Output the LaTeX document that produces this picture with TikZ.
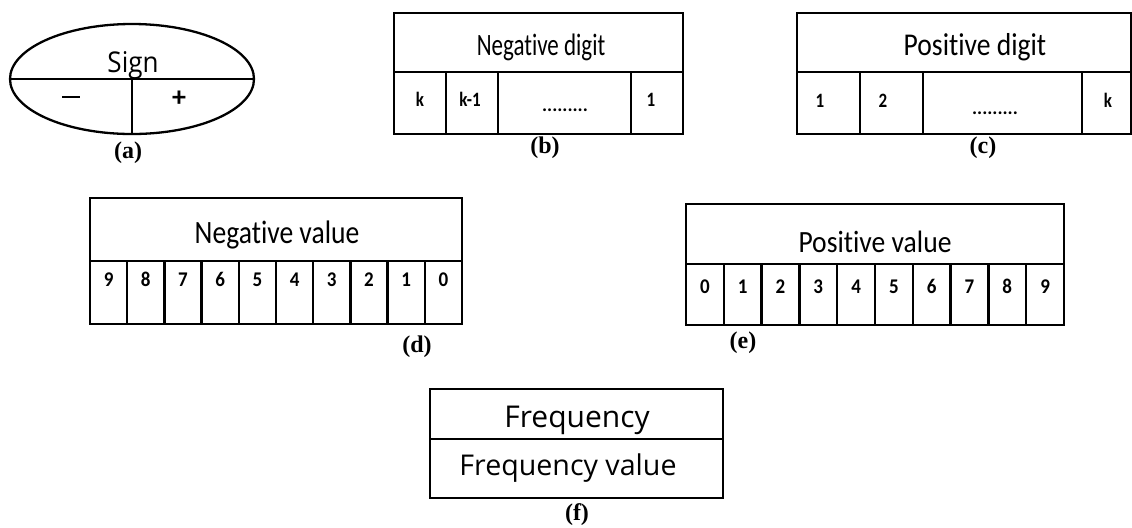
\documentclass[tikz,border=0pt]{standalone}
\usepackage{graphicx}
\usepackage{fontspec}
\setmainfont{Liberation Serif}
\newfontfamily\cellfont[Ligatures=NoCommon]{Carlito}
\newfontfamily\headfont{Open Sans}
\usetikzlibrary{shapes.geometric}

% hohe, schmale Schrift in den Kopfzeilen
\newcommand{\tall}[2]{\scalebox{1}[#1]{#2}}

\tikzset{
  title/.style={font=\cellfont\fontsize{13.8}{16}\selectfont, anchor=base},
  smalltitle/.style={font=\cellfont\fontsize{11.5}{14}\selectfont, anchor=base},
  digit/.style={font=\cellfont\bfseries\fontsize{9.5}{11}\selectfont, anchor=base},
  smalldigit/.style={font=\cellfont\bfseries\fontsize{8.5}{10}\selectfont, anchor=base},
  caption/.style={font=\bfseries\fontsize{12}{14}\selectfont, anchor=base},
}

\begin{document}
\begin{tikzpicture}[x=0.5pt, y=-0.5pt, line width=1.15pt]
    \useasboundingbox (0,0) rectangle (1132,527);

    % (a) Vorzeichen-Feld
    \node[ellipse, draw, minimum width=122pt, minimum height=55pt, inner sep=0pt] (sign) at (132,79) {};
    \draw (sign.west) -- (sign.east);
    \draw (sign.center) -- (sign.south);
    \node[font=\headfont\fontsize{13}{15}\selectfont, anchor=base] (signtxt) at (133,72) {\tall{1.1}{Sign}};
    \node[inner sep=0pt] (minus) at (71,97) {\rule{9pt}{1.4pt}};
    \node[font=\cellfont\bfseries\fontsize{14}{16}\selectfont, anchor=base] (plus) at (179,106) {+};
    \node[caption] (capa) at (128,158) {(a)};

    % (b) negative Ziffern
    \draw (394,13) rectangle (683,134);
    \draw (394,72) -- (683,72);
    \draw (446,72) -- (446,134);
    \draw (498,72) -- (498,134);
    \draw (631,72) -- (631,134);
    \node[smalltitle] (negdig) at (541,55) {\tall{1.35}{Negative digit}};
    \node[smalldigit] (nk) at (420,106) {\tall{1.2}{k}};
    \node[smalldigit] (nkm) at (470,106) {\tall{1.2}{k-1}};
    \node[digit] (ndots) at (565,111) {.........};
    \node[smalldigit] (none) at (651,106) {\tall{1.2}{1}};
    \node[caption] (capb) at (545,153) {(b)};

    % (c) positive Ziffern
    \draw (797,13) rectangle (1131,134);
    \draw (797,72) -- (1131,72);
    \draw (860,72) -- (860,134);
    \draw (923,72) -- (923,134);
    \draw (1082,72) -- (1082,134);
    \node[title] (posdig) at (975,55) {\tall{1.15}{Positive digit}};
    \node[smalldigit] (pone) at (820,107) {\tall{1.2}{1}};
    \node[smalldigit] (ptwo) at (883,107) {\tall{1.2}{2}};
    \node[digit] (pdots) at (995,114) {.........};
    \node[smalldigit] (pk) at (1108,107) {\tall{1.2}{k}};
    \node[caption] (capc) at (983,153) {(c)};

    % (d) negative Werte 9 ... 0
    \draw (90,198) rectangle (462,324);
    \draw (90,261) -- (462,261);
    \foreach \i in {1,...,9}
        \draw (90+\i*37.2,261) -- (90+\i*37.2,324);
    \node[title] (negval) at (277,243) {\tall{1.18}{Negative value}};
    \foreach \d [count=\i from 0] in {9,8,...,0}
        \node[digit] (nv\i) at (108.6+\i*37.2,286) {\tall{1.1}{\d}};
    \node[caption] (capd) at (417,352) {(d)};

    % (e) positive Werte 0 ... 9
    \draw (686,204) rectangle (1064,325);
    \draw (686,264) -- (1064,264);
    \foreach \i in {1,...,9}
        \draw (686+\i*37.8,264) -- (686+\i*37.8,325);
    \node[title] (posval) at (875,252) {\tall{1.12}{Positive value}};
    \foreach \d [count=\i from 0] in {0,1,...,9}
        \node[digit] (pv\i) at (704.9+\i*37.8,293) {\tall{1.1}{\d}};
    \node[caption] (cape) at (743,348) {(e)};

    % (f) Haeufigkeit
    \draw (430,389) rectangle (723,498);
    \draw (430,439) -- (723,439);
    \node[font=\headfont\fontsize{15}{17}\selectfont, anchor=base] (freq) at (577,427) {Frequency};
    \node[font=\headfont\fontsize{14.3}{17}\selectfont, anchor=base] (freqval) at (568,475) {Frequency value};
    \node[caption] (capf) at (577,520) {(f)};
\end{tikzpicture}
\end{document}
